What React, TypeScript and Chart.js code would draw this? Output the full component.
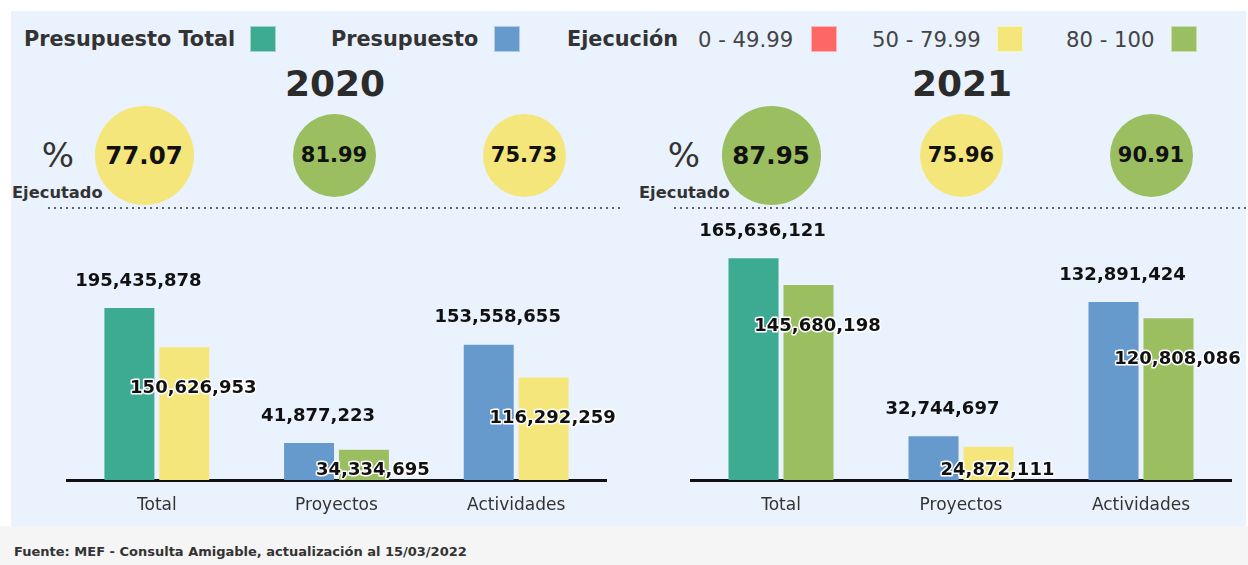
import React, { useEffect, useRef } from "react";
import { Chart, registerables } from "chart.js";

Chart.register(...registerables);

const FONT = "'DejaVu Sans', sans-serif";

// ---- data ----
const categories = ["Total", "Proyectos", "Actividades"];
const years = ["2020", "2021"];
const presupuesto2020 = [195435878, 41877223, 153558655];
const ejecucion2020 = [150626953, 34334695, 116292259];
const presupuesto2021 = [165636121, 32744697, 132891424];
const ejecucion2021 = [145680198, 24872111, 120808086];
const pctEjecutado2020 = [77.07, 81.99, 75.73];
const pctEjecutado2021 = [87.95, 75.96, 90.91];
const yMax2020 = 285000000;
const yMax2021 = 187500000;
const legendRanges = ["0 - 49.99", "50 - 79.99", "80 - 100"];
const sourceText = "Fuente: MEF - Consulta Amigable, actualización al 15/03/2022";

// ---- colours ----
const TEAL = "#3DAB92";
const BLUE = "#6699CC";
const RED = "#FF6666";
const YELLOW = "#F5E67B";
const GREEN = "#9BBF60";
const PANEL = "#EAF2FD";

const pctColor = (p: number) => (p < 50 ? RED : p < 80 ? YELLOW : GREEN);
const fmt = (n: number) => String(n).replace(/\B(?=(\d{3})+(?!\d))/g, ",");

const labelPlugin = {
  id: "barLabels",
  afterDatasetsDraw(chart: any) {
    const ctx = chart.ctx;
    const base = chart.scales.y.getPixelForValue(0);
    chart.data.datasets.forEach((ds: any, di: number) => {
      const meta = chart.getDatasetMeta(di);
      meta.data.forEach((bar: any, i: number) => {
        const text = fmt(ds.data[i]);
        const x = bar.x + 9;
        const y = di === 0 ? bar.y - 27 : Math.min(bar.y + 41, base - 10);
        ctx.save();
        ctx.font = `bold 18px ${FONT}`;
        ctx.textAlign = "center";
        ctx.textBaseline = "middle";
        ctx.lineJoin = "round";
        ctx.lineWidth = 3;
        ctx.strokeStyle = "#ffffff";
        if (di === 1) ctx.strokeText(text, x, y);
        ctx.fillStyle = "#111111";
        ctx.fillText(text, x, y);
        ctx.restore();
      });
    });
  },
};

function BarChart(props: {
  left: number;
  width: number;
  padL: number;
  padR: number;
  presupuesto: number[];
  ejecucion: number[];
  pct: number[];
  yMax: number;
}) {
  const ref = useRef<HTMLCanvasElement>(null);
  useEffect(() => {
    const chart = new Chart(ref.current as HTMLCanvasElement, {
      type: "bar",
      data: {
        labels: categories,
        datasets: [
          {
            label: "Presupuesto",
            data: props.presupuesto,
            backgroundColor: props.presupuesto.map((_, i) => (i === 0 ? TEAL : BLUE)),
            borderWidth: 0,
            barPercentage: 0.91,
            categoryPercentage: 0.611,
          },
          {
            label: "Ejecución",
            data: props.ejecucion,
            backgroundColor: props.pct.map(pctColor),
            borderWidth: 0,
            barPercentage: 0.91,
            categoryPercentage: 0.611,
          },
        ],
      },
      options: {
        animation: false,
        responsive: false,
        maintainAspectRatio: false,
        layout: { padding: { left: props.padL, right: props.padR, top: 14, bottom: 0 } },
        plugins: { legend: { display: false }, tooltip: { enabled: false } },
        scales: {
          x: {
            grid: { display: false, drawTicks: false },
            border: { display: true, color: "#111111", width: 3 },
            ticks: { color: "#333333", font: { family: FONT, size: 17 }, padding: 15 },
            afterFit: (s: any) => {
              s.height = 46;
            },
          },
          y: { display: false, min: 0, max: props.yMax },
        },
      },
      plugins: [labelPlugin],
    } as any);
    return () => chart.destroy();
  }, []);
  return (
    <canvas
      ref={ref}
      width={props.width}
      height={311}
      style={{ position: "absolute", left: props.left, top: 215, width: props.width, height: 311, display: "block" }}
    />
  );
}

const abs = (extra: React.CSSProperties): React.CSSProperties => ({
  position: "absolute",
  whiteSpace: "nowrap",
  fontFamily: FONT,
  ...extra,
});

function Centered(props: { x: number; y: number; style: React.CSSProperties; children: any }) {
  return (
    <div style={abs({ left: props.x, top: props.y, transform: "translate(-50%,-50%)", ...props.style })}>
      {props.children}
    </div>
  );
}

function LeftText(props: { x: number; y: number; style: React.CSSProperties; children: any }) {
  return (
    <div style={abs({ left: props.x, top: props.y, transform: "translateY(-50%)", ...props.style })}>
      {props.children}
    </div>
  );
}

function Square(props: { x: number; color: string }) {
  return (
    <div
      style={{
        position: "absolute",
        left: props.x,
        top: 26,
        width: 26,
        height: 26,
        background: props.color,
        boxSizing: "border-box",
        border: "1px solid rgba(255,255,255,0.5)",
      }}
    />
  );
}

function YearHeader(props: {
  year: string;
  titleX: number;
  pctX: number;
  ejecX: number;
  circleX: number[];
  pct: number[];
  lineX0: number;
  lineX1: number;
}) {
  const sizes = [99, 83, 83];
  const fonts = [24.5, 21, 21];
  return (
    <>
      <Centered x={props.titleX} y={83} style={{ fontSize: 36, fontWeight: "bold", color: "#2b2b2b" }}>
        {props.year}
      </Centered>
      <Centered x={props.pctX} y={155} style={{ fontSize: 34, color: "#333" }}>
        %
      </Centered>
      {props.circleX.map((cx, i) => (
        <div
          key={i}
          style={{
            position: "absolute",
            left: cx - sizes[i] / 2,
            top: 155 - sizes[i] / 2,
            width: sizes[i],
            height: sizes[i],
            borderRadius: "50%",
            background: pctColor(props.pct[i]),
          }}
        />
      ))}
      {props.circleX.map((cx, i) => (
        <Centered key={"t" + i} x={cx} y={155} style={{ fontSize: fonts[i], fontWeight: "bold", color: "#111" }}>
          {props.pct[i].toFixed(2)}
        </Centered>
      ))}
      <LeftText x={props.ejecX} y={192} style={{ fontSize: 16.3, fontWeight: "bold", color: "#333" }}>
        Ejecutado
      </LeftText>
      <div
        style={{
          position: "absolute",
          left: props.lineX0,
          top: 207,
          width: props.lineX1 - props.lineX0,
          height: 2,
          backgroundImage: "linear-gradient(to right, #666 2px, transparent 2px)",
          backgroundSize: "6px 2px",
        }}
      />
    </>
  );
}

export default function App() {
  const boldLegend: React.CSSProperties = { fontSize: 20.8, fontWeight: "bold", color: "#333" };
  const rangeLegend: React.CSSProperties = { fontSize: 21.2, color: "#444" };
  return (
    <div style={{ position: "absolute", left: 0, top: 0, width: 1248, height: 565, background: "#ffffff", overflow: "hidden" }}>
      <div style={{ position: "absolute", left: 0, top: 526, width: 1248, height: 39, background: "#F5F5F5" }} />
      <div style={{ position: "absolute", left: 11, top: 11, width: 1235, height: 515, background: PANEL }} />

      {/* legend */}
      <LeftText x={24} y={39} style={boldLegend}>
        Presupuesto Total
      </LeftText>
      <Square x={250} color={TEAL} />
      <LeftText x={331} y={39} style={boldLegend}>
        Presupuesto
      </LeftText>
      <Square x={494} color={BLUE} />
      <LeftText x={567} y={39} style={boldLegend}>
        Ejecución
      </LeftText>
      <LeftText x={698} y={39} style={rangeLegend}>
        {legendRanges[0]}
      </LeftText>
      <Square x={811} color={RED} />
      <LeftText x={872} y={39} style={rangeLegend}>
        {legendRanges[1]}
      </LeftText>
      <Square x={997} color={YELLOW} />
      <LeftText x={1066} y={39} style={rangeLegend}>
        {legendRanges[2]}
      </LeftText>
      <Square x={1171} color={GREEN} />

      <YearHeader
        year={years[0]}
        titleX={335}
        pctX={58}
        ejecX={12}
        circleX={[144, 334, 524]}
        pct={pctEjecutado2020}
        lineX0={48}
        lineX1={624}
      />
      <YearHeader
        year={years[1]}
        titleX={962}
        pctX={684}
        ejecX={639}
        circleX={[771, 961, 1151]}
        pct={pctEjecutado2021}
        lineX0={674}
        lineX1={1248}
      />

      <BarChart
        left={12}
        width={630}
        padL={55}
        padR={36}
        presupuesto={presupuesto2020}
        ejecucion={ejecucion2020}
        pct={pctEjecutado2020}
        yMax={yMax2020}
      />
      <BarChart
        left={640}
        width={608}
        padL={51}
        padR={17}
        presupuesto={presupuesto2021}
        ejecucion={ejecucion2021}
        pct={pctEjecutado2021}
        yMax={yMax2021}
      />

      <LeftText x={14} y={551} style={{ fontSize: 13, fontWeight: "bold", color: "#333" }}>
        {sourceText}
      </LeftText>
    </div>
  );
}
